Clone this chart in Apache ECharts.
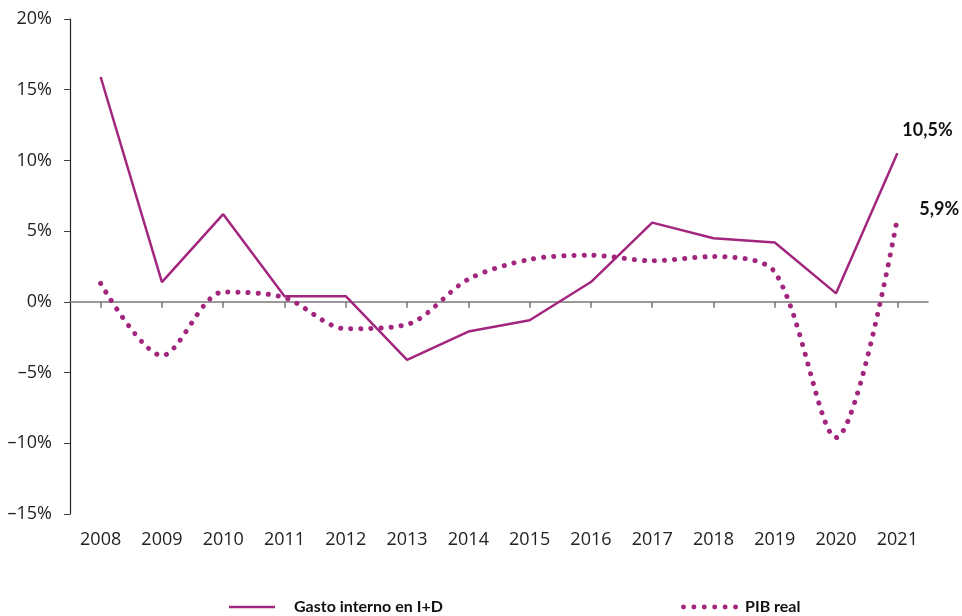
<!DOCTYPE html>
<html>
<head>
<meta charset="utf-8">
<script src="https://cdn.jsdelivr.net/npm/echarts@6/dist/echarts.min.js"></script>
<style>
  html, body { margin: 0; padding: 0; background: #fff; }
  #chart { width: 962px; height: 616px; }
</style>
</head>
<body>
<div id="chart"></div>
<script>
// datos
var years = ['2008', '2009', '2010', '2011', '2012', '2013', '2014', '2015', '2016', '2017', '2018', '2019', '2020', '2021'];
var gastoID = [15.9, 1.4, 6.2, 0.4, 0.4, -4.1, -2.1, -1.3, 1.4, 5.6, 4.5, 4.2, 0.6, 10.5];
var pibReal = [1.3, -3.8, 0.7, 0.3, -1.9, -1.6, 1.6, 3.0, 3.3, 2.9, 3.2, 2.1, -9.6, 5.9];

var purple = '#a3267e';
var font = 'Open Sans';

var chart = echarts.init(document.getElementById('chart'));

function fmt(v) {
  return String(v).replace('.', ',') + '%';
}

// icono de puntos para la leyenda
var dotsPath = 'path://';
for (var i = 0; i < 6; i++) {
  var cx = 2.5 + i * 10.5;
  dotsPath += 'M' + (cx - 2.5) + ',2.5a2.5,2.5 0 1,0 5,0a2.5,2.5 0 1,0 -5,0Z';
}

var option = {
  animation: false,
  textStyle: { fontFamily: font },
  grid: { left: 70, right: 34, top: 19, bottom: 102 },
  legend: [
    {
      left: 224,
      top: 594,
      data: [{ name: 'Gasto interno en I+D', icon: 'rect' }],
      itemWidth: 46,
      itemHeight: 2.5,
      itemStyle: { color: purple },
      textStyle: { fontFamily: 'Lato', fontSize: 16, fontWeight: 'bold', color: '#111', padding: [0, 0, 0, 14] }
    },
    {
      left: 676,
      top: 594,
      data: [{ name: 'PIB real', icon: dotsPath }],
      itemWidth: 57,
      itemHeight: 5,
      itemStyle: { color: purple },
      textStyle: { fontFamily: 'Lato', fontSize: 16, fontWeight: 'bold', color: '#111', padding: [0, 0, 0, 2] }
    }
  ],
  xAxis: [
    {
      type: 'category',
      data: years,
      boundaryGap: true,
      axisLine: { onZero: true, lineStyle: { color: '#777', width: 1.5 } },
      axisTick: { show: true, alignWithLabel: true, length: 6, lineStyle: { color: '#777', width: 1.5 } },
      axisLabel: { show: false }
    },
    {
      type: 'category',
      data: years,
      position: 'bottom',
      boundaryGap: true,
      axisLine: { show: false, onZero: false },
      axisTick: { show: false },
      axisLabel: { margin: 17, fontSize: 18, color: '#222', fontFamily: font }
    }
  ],
  yAxis: {
    type: 'value',
    min: -15,
    max: 20,
    interval: 5,
    splitLine: { show: false },
    axisLine: { show: true, lineStyle: { color: '#222', width: 1.2 } },
    axisTick: { show: true, length: 6, lineStyle: { color: '#444' } },
    axisLabel: {
      margin: 18,
      fontSize: 18,
      color: '#222',
      fontFamily: font,
      formatter: function (v) {
        return (v < 0 ? '\u2013' + Math.abs(v) : v) + '%';
      }
    }
  },
  series: [
    {
      name: 'Gasto interno en I+D',
      type: 'line',
      data: gastoID,
      symbol: 'none',
      lineStyle: { color: purple, width: 2.5 },
      itemStyle: { color: purple },
      endLabel: {
        show: true,
        distance: 0,
        offset: [5, -23],
        formatter: function (p) { return fmt(p.value); },
        fontFamily: 'Lato', fontSize: 18, fontWeight: 'bold', color: '#111'
      },
      z: 3
    },
    {
      name: 'PIB real',
      type: 'line',
      data: pibReal,
      smooth: 0.3,
      symbol: 'none',
      lineStyle: { color: purple, width: 5, type: [0.1, 10], cap: 'round' },
      itemStyle: { color: purple },
      endLabel: {
        show: true,
        distance: 0,
        offset: [22, -9],
        formatter: function (p) { return fmt(p.value); },
        fontFamily: 'Lato', fontSize: 18, fontWeight: 'bold', color: '#111'
      },
      z: 2
    }
  ]
};

chart.setOption(option);
</script>
</body>
</html>
